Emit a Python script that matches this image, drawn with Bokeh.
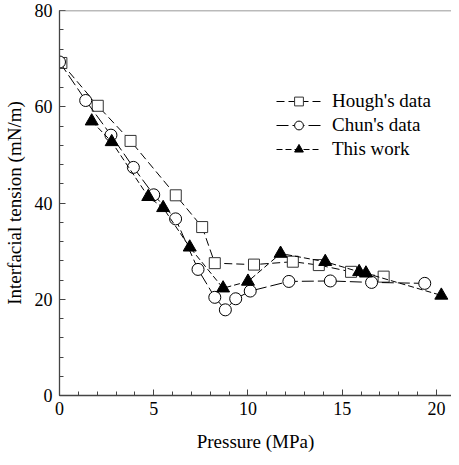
from bokeh.plotting import figure
from bokeh.models import Legend, LegendItem, Span, FixedTicker
from bokeh.embed import file_html
from bokeh.resources import INLINE

# Data
hough_p = [0.1, 2.03, 3.77, 6.17, 7.57, 8.24, 10.32, 12.38, 13.76, 15.47, 17.2]
hough_t = [69.1, 60.2, 52.9, 41.6, 35.0, 27.5, 27.2, 27.8, 27.1, 25.7, 24.7]

chun_p = [0.0, 1.39, 2.73, 3.92, 5.0, 6.16, 7.35, 8.24, 8.8, 9.35, 10.12, 12.17, 14.37, 16.56, 19.38]
chun_t = [69.3, 61.3, 54.1, 47.4, 41.7, 36.7, 26.2, 20.4, 17.8, 20.1, 21.7, 23.7, 23.8, 23.5, 23.3]

work_p = [1.71, 2.77, 4.71, 5.5, 6.91, 8.68, 10.0, 11.73, 14.1, 15.9, 16.26, 20.26]
work_t = [57.0, 52.7, 41.3, 39.0, 30.8, 22.3, 23.7, 29.5, 27.8, 25.7, 25.4, 20.8]

x_ticks = [0, 5, 10, 15, 20]
y_ticks = [0, 20, 40, 60, 80]

FONT = "Liberation Serif"

p = figure(width=451, height=457, x_range=(0, 20.8), y_range=(0, 80),
           output_backend="svg", toolbar_location=None,
           min_border_left=58, min_border_right=0, min_border_top=10, min_border_bottom=62)
p.outline_line_color = None
p.grid.visible = False
p.background_fill_color = "white"
p.border_fill_color = "white"

p.add_layout(Span(location=80, dimension="width", line_color="#777777", line_width=1.5))

for ax in (p.xaxis[0], p.yaxis[0]):
    ax.axis_line_color = "#444444"
    ax.axis_line_width = 1.3
    ax.major_tick_line_color = "#444444"
    ax.minor_tick_line_color = "#444444"
    ax.major_tick_out = 0
    ax.major_tick_in = 6
    ax.minor_tick_out = 0
    ax.minor_tick_in = 4
    ax.major_label_text_font = FONT
    ax.major_label_text_font_size = "18px"
    ax.major_label_text_color = "black"
    ax.axis_label_text_font = FONT
    ax.axis_label_text_font_size = "19px"
    ax.axis_label_text_font_style = "normal"
    ax.axis_label_text_color = "black"

p.xaxis.ticker = FixedTicker(ticks=x_ticks, minor_ticks=list(range(0, 21)))
p.yaxis.ticker = FixedTicker(ticks=y_ticks, minor_ticks=list(range(0, 81, 4)))
p.xaxis.axis_label = "Pressure (MPa)"
p.yaxis.axis_label = "Interfacial tension (mN/m)"
p.xaxis.major_label_standoff = 6
p.yaxis.major_label_standoff = 7
p.xaxis.axis_label_standoff = 13
p.yaxis.axis_label_standoff = 7

l1 = p.line(hough_p, hough_t, line_color="black", line_width=1, line_dash="8 4")
m1 = p.scatter(hough_p, hough_t, marker="square", size=11, fill_color="white",
               line_color="#333333", line_width=1)
l2 = p.line(chun_p, chun_t, line_color="black", line_width=1, line_dash="12 4")
m2 = p.scatter(chun_p, chun_t, marker="circle", size=12, fill_color="white",
               line_color="black", line_width=1)
l3 = p.line(work_p, work_t, line_color="black", line_width=1, line_dash="6 3")
m3 = p.scatter(work_p, work_t, marker="triangle", size=13, fill_color="black",
               line_color="black", line_width=1)

legend = Legend(items=[
    LegendItem(label="Hough's data", renderers=[l1, m1]),
    LegendItem(label="Chun's data", renderers=[l2, m2]),
    LegendItem(label="This work", renderers=[l3, m3]),
], location=(217, 235))
legend.label_text_font = FONT
legend.label_text_font_size = "19px"
legend.label_text_color = "black"
legend.glyph_width = 45
legend.glyph_height = 22
legend.label_height = 23
legend.spacing = 1
legend.padding = 0
legend.margin = 0
legend.label_standoff = 11
legend.border_line_color = None
legend.background_fill_alpha = 0
p.add_layout(legend, "center")

open("out.html", "w").write(file_html(p, INLINE))
